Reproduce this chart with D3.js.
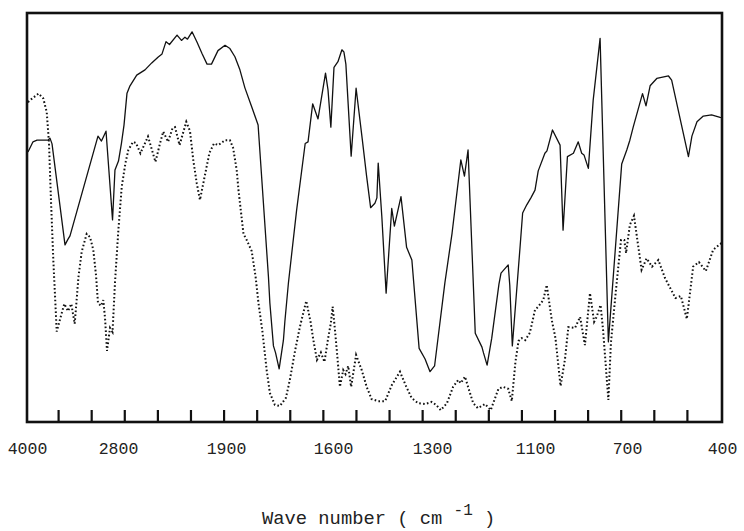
<!DOCTYPE html>
<html>
<head>
<meta charset="utf-8">
<script src="https://cdn.jsdelivr.net/npm/d3@7"></script>
<style>
  body { margin: 0; background: #fff; }
  svg { display: block; }
  .label-axis text { font-family: "Liberation Mono", "DejaVu Sans Mono", monospace; font-size: 16.5px; fill: #222; }
  .axis-title { font-family: "Liberation Mono", "DejaVu Sans Mono", monospace; fill: #222; }
</style>
</head>
<body>
<div id="chart"></div>
<script>
var svgWidth = 744;
var svgHeight = 531;

var margin = {
  top: 13,
  right: 22,
  bottom: 109,
  left: 27
};

var width = svgWidth - margin.left - margin.right;
var height = svgHeight - margin.top - margin.bottom;

// wave number labels printed under the frame (the scale is not linear between them)
var axisLabels = [4000, 2800, 1900, 1600, 1300, 1100, 700, 400];

// solid trace: wave number (cm-1) and transmittance (% of frame height)
var solidWn = [3987, 3921, 3868, 3723, 3697, 3670, 3499, 3459, 3433, 3064,
  3018, 2958, 2872, 2840, 2796, 2771, 2750, 2725, 2700, 2644,
  2575, 2519, 2467, 2433, 2400, 2371, 2308, 2271, 2242, 2221,
  2183, 2142, 2100, 2058, 2021, 1967, 1908, 1889, 1875, 1861,
  1847, 1828, 1810, 1781, 1777, 1767, 1761, 1751, 1739, 1735,
  1725, 1702, 1678, 1670, 1657, 1642, 1621, 1614, 1606, 1597,
  1585, 1573, 1567, 1561, 1545, 1530, 1511, 1498, 1486, 1473,
  1467, 1463, 1452, 1439, 1422, 1414, 1394, 1377, 1361, 1339,
  1321, 1306, 1295, 1275, 1261, 1244, 1237, 1230, 1216, 1203,
  1200, 1193, 1184, 1170, 1166, 1152, 1149, 1144, 1129, 1124,
  1116, 1108, 1100, 1086, 1057, 1048, 1024, 991, 978, 959,
  933, 912, 897, 887, 868, 847, 817, 781, 723, 701,
  691, 680, 651, 640, 627, 606, 569, 559, 506, 495,
  479, 459, 433, 406, 400];
var solidT = [66.0, 68.5, 68.9, 68.9, 69.4, 68.0, 43.3, 44.7, 45.5, 69.9,
  68.7, 71.1, 49.4, 61.6, 63.8, 68.2, 72.6, 80.4, 82.2, 84.8,
  86.1, 87.8, 89.2, 90.0, 93.0, 92.3, 94.6, 93.3, 94.1, 93.6,
  95.4, 92.9, 90.1, 87.5, 87.5, 90.8, 92.1, 91.3, 89.3, 86.1,
  81.7, 77.1, 72.6, 35.5, 29.1, 18.6, 16.9, 13.0, 20.0, 24.5,
  34.0, 51.8, 68.1, 68.5, 77.8, 74.1, 85.3, 81.2, 72.1, 86.7,
  88.1, 91.0, 90.5, 87.5, 65.0, 81.6, 68.9, 60.0, 52.4, 53.5,
  54.8, 63.3, 50.2, 31.5, 52.2, 47.9, 55.1, 42.7, 39.6, 18.0,
  15.4, 12.3, 13.7, 34.0, 46.2, 64.1, 60.1, 66.5, 21.7, 18.3,
  16.9, 13.9, 20.5, 33.7, 36.4, 38.4, 33.5, 18.6, 42.8, 51.1,
  53.1, 54.8, 56.7, 61.4, 65.7, 66.3, 71.4, 67.7, 46.9, 64.9,
  65.7, 68.5, 65.7, 65.3, 62.0, 78.7, 93.8, 19.6, 63.1, 66.5,
  68.9, 72.2, 80.3, 77.3, 82.2, 84.0, 84.6, 83.6, 64.9, 69.9,
  73.4, 74.8, 75.1, 74.5, 74.4];

// dotted trace
var dottedWn = [3987, 3938, 3848, 3785, 3740, 3710, 3684, 3653, 3608, 3538,
  3508, 3459, 3416, 3371, 3321, 3279, 3213, 3169, 3126, 3090,
  3064, 3024, 2994, 2971, 2945, 2905, 2872, 2840, 2797, 2769,
  2738, 2714, 2675, 2650, 2613, 2550, 2488, 2450, 2423, 2383,
  2346, 2325, 2287, 2231, 2200, 2173, 2144, 2117, 2089, 2038,
  2000, 1964, 1908, 1889, 1880, 1870, 1865, 1851, 1842, 1828,
  1817, 1809, 1798, 1786, 1777, 1763, 1749, 1732, 1721, 1707,
  1693, 1675, 1663, 1655, 1645, 1634, 1624, 1613, 1606, 1601,
  1594, 1586, 1579, 1569, 1562, 1554, 1545, 1530, 1513, 1498,
  1483, 1463, 1442, 1422, 1397, 1380, 1362, 1342, 1321, 1301,
  1292, 1283, 1271, 1259, 1249, 1244, 1236, 1230, 1220, 1211,
  1197, 1186, 1171, 1162, 1152, 1145, 1138, 1132, 1126, 1119,
  1110, 1100, 1086, 1064, 1049, 1027, 1011, 989, 970, 955,
  926, 904, 883, 861, 843, 832, 815, 804, 781, 770,
  748, 726, 712, 704, 691, 678, 654, 638, 621, 601,
  580, 547, 530, 511, 491, 473, 451, 428, 406, 400];
var dottedT = [78.2, 79.0, 80.3, 79.1, 75.8, 68.2, 54.3, 39.6, 22.1, 26.9,
  28.9, 27.1, 28.9, 24.0, 35.5, 41.6, 46.0, 45.2, 42.1, 35.9,
  29.1, 28.4, 29.8, 25.4, 17.4, 23.0, 22.0, 34.0, 46.9, 57.5,
  63.3, 66.5, 68.5, 68.2, 65.7, 69.8, 63.6, 68.1, 71.0, 68.5,
  71.8, 72.1, 67.7, 73.4, 71.1, 64.1, 58.4, 54.3, 58.4, 65.8,
  68.1, 67.7, 68.9, 68.9, 67.0, 61.6, 56.7, 46.0, 44.5, 41.8,
  35.5, 29.1, 22.2, 12.7, 7.1, 4.2, 3.9, 5.9, 10.3, 17.1,
  23.2, 29.6, 24.5, 20.0, 15.2, 17.0, 14.7, 20.8, 24.2, 28.2,
  22.5, 15.2, 8.6, 12.7, 11.7, 13.7, 8.6, 16.4, 12.7, 8.6,
  5.6, 5.1, 5.1, 9.0, 12.3, 9.0, 5.9, 4.6, 4.4, 4.9,
  4.2, 2.9, 4.6, 8.6, 10.3, 9.5, 11.1, 8.6, 4.6, 3.4,
  4.4, 2.9, 8.1, 8.6, 8.1, 5.1, 14.7, 19.8, 20.5, 20.0,
  21.8, 27.4, 28.2, 29.8, 33.5, 24.9, 20.5, 8.8, 15.2, 23.2,
  23.0, 25.7, 18.8, 31.5, 24.5, 25.7, 28.6, 22.5, 5.4, 19.3,
  32.3, 44.5, 44.5, 41.3, 48.2, 50.4, 37.2, 40.0, 38.0, 39.6,
  35.2, 30.3, 30.8, 25.2, 38.0, 39.1, 36.9, 42.1, 43.5, 43.8];

var svg = d3
  .select("#chart")
  .append("svg")
  .attr("width", svgWidth)
  .attr("height", svgHeight);

var chartGroup = svg
  .append("g")
  .attr("transform", `translate(${margin.left}, ${margin.top})`);

// piecewise scale: each printed label sits at its own spot on the frame
var xScale = d3
  .scaleLinear()
  .domain(axisLabels)
  .range([0, 91, 199, 306, 405, 508, 600, 695]);

var yScale = d3
  .scaleLinear()
  .domain([0, 100])
  .range([height, 0]);

// 20 evenly spaced tick marks, independent of the labels
var tickScale = d3
  .scaleLinear()
  .domain([0, 21])
  .range([-2, 693]);

var line = d3
  .line()
  .x(d => xScale(d[0]))
  .y(d => yScale(d[1]));

chartGroup
  .append("path")
  .datum(d3.zip(dottedWn, dottedT))
  .attr("fill", "none")
  .attr("stroke", "#111")
  .attr("stroke-width", 2)
  .attr("stroke-dasharray", "1.6 2.3")
  .attr("d", line);

chartGroup
  .append("path")
  .datum(d3.zip(solidWn, solidT))
  .attr("fill", "none")
  .attr("stroke", "#111")
  .attr("stroke-width", 1.3)
  .attr("stroke-linejoin", "round")
  .attr("d", line);

// tick marks pointing up into the frame
var tickAxis = chartGroup
  .append("g")
  .attr("transform", `translate(0, ${height})`)
  .call(
    d3.axisBottom(tickScale)
      .tickValues(d3.range(1, 21))
      .tickSize(-12)
      .tickFormat("")
  );
tickAxis.select(".domain").remove();
tickAxis.selectAll("line").attr("stroke", "#111").attr("stroke-width", 2.2);

var labelAxis = chartGroup
  .append("g")
  .attr("class", "label-axis")
  .attr("transform", `translate(0, ${height})`)
  .call(
    d3.axisBottom(xScale)
      .tickValues(axisLabels)
      .tickSize(0)
      .tickPadding(20)
      .tickFormat(d3.format("d"))
  );
labelAxis.select(".domain").remove();
labelAxis.selectAll("text").attr("font-family", null).attr("font-size", null);

// frame
chartGroup
  .append("rect")
  .attr("x", 0)
  .attr("y", 0)
  .attr("width", width)
  .attr("height", height)
  .attr("fill", "none")
  .attr("stroke", "#111")
  .attr("stroke-width", 2.6);

var title = svg
  .append("text")
  .attr("class", "axis-title")
  .attr("x", 262)
  .attr("y", 524)
  .attr("font-size", 18.8)
  .attr("xml:space", "preserve");
title.append("tspan").text("Wave number ( cm ");
title.append("tspan").attr("dy", -9).attr("font-size", 16).text("-1");
title.append("tspan").attr("dy", 9).text(" )");
</script>
</body>
</html>
